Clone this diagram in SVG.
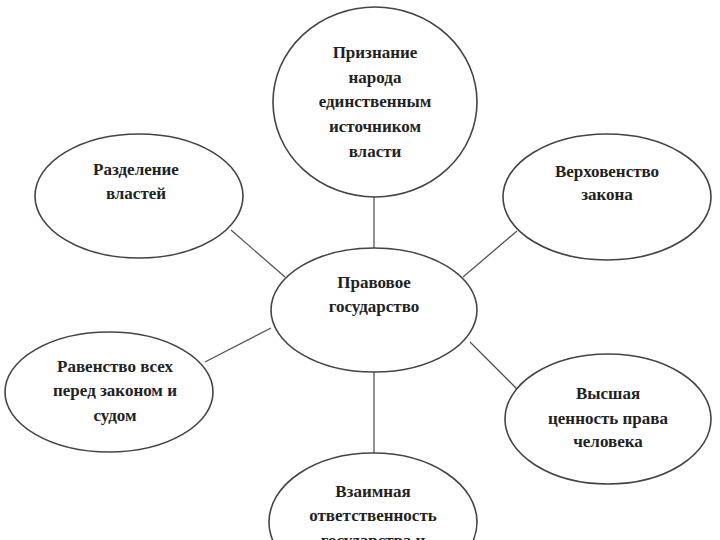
<svg xmlns="http://www.w3.org/2000/svg" width="720" height="540" viewBox="0 0 720 540">
<style>
.n ellipse{fill:#fff;stroke:#444;stroke-width:1.6}
.c line{stroke:#555;stroke-width:1.3}
text{font-family:"Liberation Serif","DejaVu Serif",serif;font-size:17px;font-weight:bold;fill:#222;text-anchor:middle;dominant-baseline:middle}
</style>
<rect width="720" height="540" fill="#fff"/>
<g class="c">
<line x1="374" y1="197" x2="374" y2="248"/>
<line x1="231" y1="230" x2="285" y2="277"/>
<line x1="517" y1="231" x2="463" y2="277"/>
<line x1="205" y1="362" x2="271" y2="328"/>
<line x1="470" y1="342" x2="518" y2="390"/>
<line x1="374" y1="372" x2="374" y2="454"/>
</g>
<g id="top" class="n"><ellipse cx="375" cy="102" rx="102" ry="95"/>
<text x="375" y="54">Признание</text><text x="375" y="79">народа</text><text x="375" y="103">единственным</text><text x="375" y="128">источником</text><text x="375" y="153">власти</text></g>
<g id="center" class="n"><ellipse cx="374" cy="310" rx="103" ry="62"/>
<text x="374" y="284">Правовое</text><text x="374" y="308">государство</text></g>
<g id="separation" class="n"><ellipse cx="139" cy="196" rx="104" ry="62"/>
<text x="136" y="171">Разделение</text><text x="136" y="195">властей</text></g>
<g id="supremacy" class="n"><ellipse cx="607" cy="197" rx="104" ry="63"/>
<text x="607" y="173">Верховенство</text><text x="607" y="196">закона</text></g>
<g id="equality" class="n"><ellipse cx="109" cy="392" rx="104" ry="60"/>
<text x="115" y="368">Равенство всех</text><text x="115" y="392">перед законом и</text><text x="115" y="417">судом</text></g>
<g id="value" class="n"><ellipse cx="608" cy="419" rx="103" ry="65"/>
<text x="608" y="395">Высшая</text><text x="608" y="420">ценность права</text><text x="608" y="443">человека</text></g>
<g id="responsibility" class="n"><ellipse cx="373" cy="522" rx="104" ry="69"/>
<text x="373" y="493">Взаимная</text><text x="373" y="517">ответственность</text><text x="373" y="542">государства и</text></g>
</svg>
